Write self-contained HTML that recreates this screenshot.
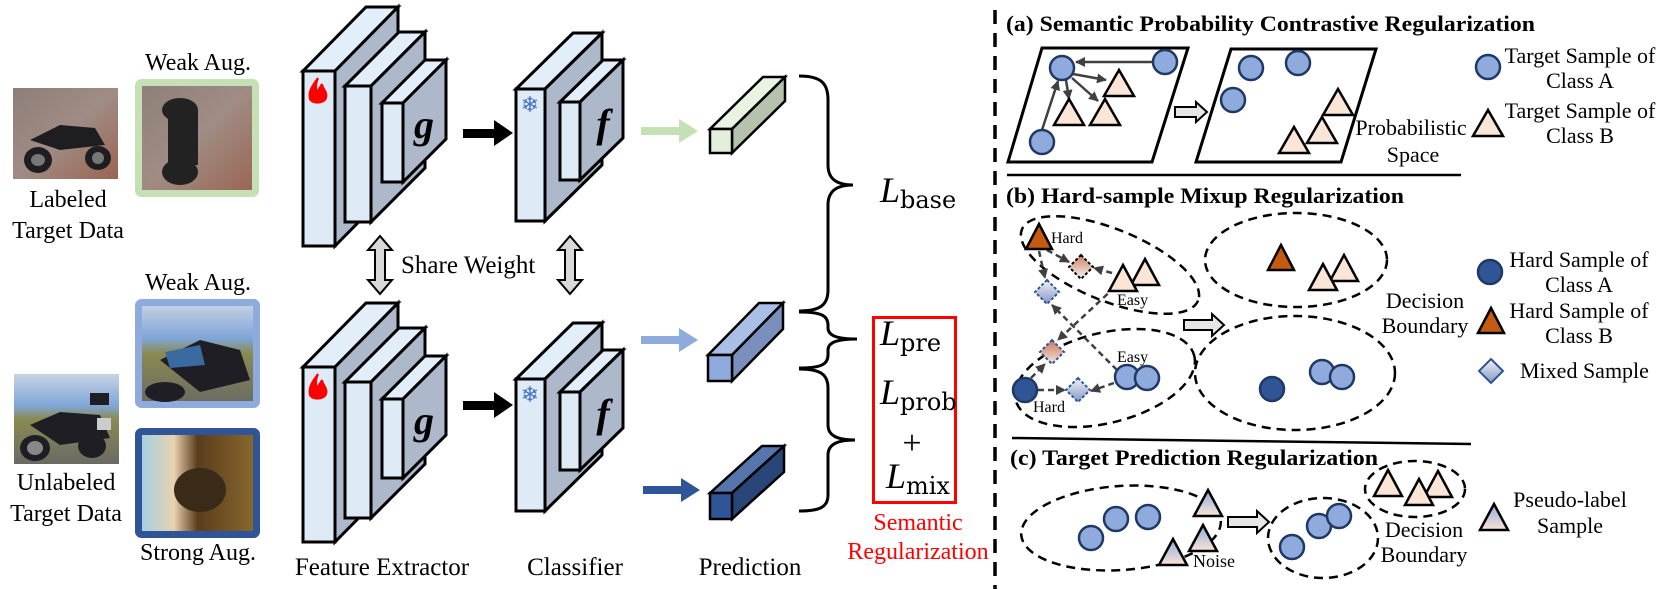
<!DOCTYPE html>
<html><head><meta charset="utf-8"><style>
html,body{margin:0;padding:0;background:#fff}
svg{display:block;font-family:"Liberation Serif","Times New Roman",serif}
svg text{font-family:"Liberation Serif","Times New Roman",serif}
svg text.dv{font-family:"DejaVu Serif",serif}
svg text.sf{font-family:"DejaVu Sans",sans-serif}
</style></head><body>
<svg width="1660" height="589" viewBox="0 0 1660 589" xmlns="http://www.w3.org/2000/svg" font-family="Liberation Serif, serif">
<defs>
<linearGradient id="pl" x1="0" y1="0" x2="0" y2="1"><stop offset="0" stop-color="#8faadc"/><stop offset="1" stop-color="#fbe5d6"/></linearGradient>
<linearGradient id="mxb" x1="0" y1="0" x2="0" y2="1"><stop offset="0" stop-color="#f2f2f2"/><stop offset="1" stop-color="#8497c8"/></linearGradient>
<linearGradient id="mxo" x1="0" y1="0" x2="0" y2="1"><stop offset="0" stop-color="#d08060"/><stop offset="1" stop-color="#f4f4f8"/></linearGradient>
<linearGradient id="mxr" x1="0" y1="0" x2="0" y2="1"><stop offset="0" stop-color="#c8785a"/><stop offset="1" stop-color="#f8e4dc"/></linearGradient>
<linearGradient id="sky" x1="0" y1="0" x2="0" y2="1"><stop offset="0" stop-color="#c8d4e4"/><stop offset="0.35" stop-color="#7fa6d8"/><stop offset="0.5" stop-color="#8a8a52"/><stop offset="1" stop-color="#6a6a64"/></linearGradient>
<linearGradient id="brick" x1="0" y1="0" x2="1" y2="1"><stop offset="0" stop-color="#8d7f78"/><stop offset="0.5" stop-color="#a08c84"/><stop offset="1" stop-color="#9a6452"/></linearGradient>
<linearGradient id="strong" x1="0" y1="0" x2="1" y2="0"><stop offset="0" stop-color="#9fd0e8"/><stop offset="0.3" stop-color="#e8d2b0"/><stop offset="0.5" stop-color="#5a3c1c"/><stop offset="1" stop-color="#8a6a30"/></linearGradient>
<marker id="ah" viewBox="0 0 10 10" refX="9" refY="5" markerWidth="4" markerHeight="4" orient="auto"><path d="M0,0L10,5L0,10z" fill="#404040"/></marker>
</defs>

<!-- LEFT IMAGES -->
<rect x="13" y="88" width="105" height="91" fill="url(#brick)"/>
<g fill="#1e1e22"><ellipse cx="38" cy="160" rx="14" ry="13"/><ellipse cx="98" cy="158" rx="13" ry="12"/><path d="M30,140 L60,125 L95,128 L105,145 L60,150 Z"/></g>
<ellipse cx="38" cy="160" rx="7" ry="6" fill="#777"/><ellipse cx="98" cy="158" rx="6" ry="6" fill="#777"/>
<text x="68" y="207" font-size="24" text-anchor="middle">Labeled</text>
<text x="68" y="238" font-size="24" text-anchor="middle">Target Data</text>

<text x="198" y="70" font-size="24" text-anchor="middle">Weak Aug.</text>
<rect x="138.5" y="82.5" width="117" height="111" rx="3" fill="url(#brick)" stroke="#c5e0b4" stroke-width="7"/>
<g fill="#222"><ellipse cx="180" cy="110" rx="18" ry="12"/><ellipse cx="180" cy="172" rx="18" ry="13"/><rect x="168" y="110" width="30" height="55"/></g>

<text x="198" y="290" font-size="24" text-anchor="middle">Weak Aug.</text>
<rect x="138.5" y="302.5" width="118" height="102" rx="3" fill="url(#sky)" stroke="#8faadc" stroke-width="7"/>
<g fill="#1e1e24"><ellipse cx="165" cy="392" rx="20" ry="10"/><path d="M160,360 L200,340 L240,350 L250,380 L200,392 Z"/></g><path d="M165,352 L200,345 L205,365 L170,368Z" fill="#3a6aa0"/>

<rect x="138.5" y="431.5" width="118" height="103" rx="3" fill="url(#strong)" stroke="#2f5597" stroke-width="7"/>
<g fill="#3a2a18"><ellipse cx="200" cy="490" rx="26" ry="22"/></g>
<text x="198" y="560" font-size="24" text-anchor="middle">Strong Aug.</text>

<rect x="14" y="374" width="105" height="90" fill="url(#sky)"/>
<g fill="#1e1e24"><ellipse cx="35" cy="448" rx="15" ry="13"/><ellipse cx="92" cy="446" rx="14" ry="12"/><path d="M30,425 L60,412 L100,415 L110,438 L60,445 Z"/><rect x="90" y="393" width="19" height="12"/></g>
<ellipse cx="35" cy="448" rx="8" ry="7" fill="#888"/><rect x="97" y="418" width="14" height="12" fill="#ccc"/>
<text x="66" y="490" font-size="24" text-anchor="middle">Unlabeled</text>
<text x="66" y="521" font-size="24" text-anchor="middle">Target Data</text>

<!-- FEATURE EXTRACTORS -->
<g stroke="#000" stroke-width="3">
<polygon points="303,71 335,71 398,7 366,7" fill="#e2eefa"/>
<polygon points="335,71 398,7 398,182 335,246" fill="#adb9ca"/>
<rect x="303" y="71" width="32" height="175" fill="#deebf7"/>
<polygon points="345,86 371,86 425,32 399,32" fill="#e2eefa"/>
<polygon points="371,86 425,32 425,168 371,222" fill="#adb9ca"/>
<rect x="345" y="86" width="26" height="136" fill="#deebf7"/>
<polygon points="382,103 403,103 446,60 425,60" fill="#e2eefa"/>
<polygon points="403,103 446,60 446,139 403,182" fill="#adb9ca"/>
<rect x="382" y="103" width="21" height="79" fill="#deebf7"/>
</g>
<text x="424" y="138" font-size="40" font-weight="bold" font-style="italic" text-anchor="middle">g</text>
<path d="M318,78 C312,86 308,92 310,99 C312,104 324,104 326,98 C328,92 322,88 322,84 C320,88 318,90 317,92 C315,88 316,83 318,78Z" fill="#ff0000" stroke="#ff0000" stroke-width="2"/>
<g transform="translate(0,296)">
<g stroke="#000" stroke-width="3">
<polygon points="303,71 335,71 398,7 366,7" fill="#e2eefa"/>
<polygon points="335,71 398,7 398,182 335,246" fill="#adb9ca"/>
<rect x="303" y="71" width="32" height="175" fill="#deebf7"/>
<polygon points="345,86 371,86 425,32 399,32" fill="#e2eefa"/>
<polygon points="371,86 425,32 425,168 371,222" fill="#adb9ca"/>
<rect x="345" y="86" width="26" height="136" fill="#deebf7"/>
<polygon points="382,103 403,103 446,60 425,60" fill="#e2eefa"/>
<polygon points="403,103 446,60 446,139 403,182" fill="#adb9ca"/>
<rect x="382" y="103" width="21" height="79" fill="#deebf7"/>
</g>
<text x="424" y="138" font-size="40" font-weight="bold" font-style="italic" text-anchor="middle">g</text>
<path d="M318,78 C312,86 308,92 310,99 C312,104 324,104 326,98 C328,92 322,88 322,84 C320,88 318,90 317,92 C315,88 316,83 318,78Z" fill="#ff0000" stroke="#ff0000" stroke-width="2"/>
</g>

<g fill="#000"><rect x="463" y="129" width="32" height="9"/><polygon points="494,120 513,133 494,146"/>
<rect x="463" y="401" width="32" height="9"/><polygon points="494,392 513,405 494,418"/></g>

<!-- CLASSIFIERS -->
<g stroke="#000" stroke-width="3">
<polygon points="516,89 545,89 602,33 573,33" fill="#e2eefa"/>
<polygon points="545,89 602,33 602,165 545,221" fill="#adb9ca"/>
<rect x="516" y="89" width="29" height="132" fill="#deebf7"/>
<polygon points="560,102 580,102 623,60 603,60" fill="#e2eefa"/>
<polygon points="580,102 623,60 623,138 580,180" fill="#adb9ca"/>
<rect x="560" y="102" width="20" height="78" fill="#deebf7"/>
</g>
<text x="603" y="137" font-size="40" font-weight="bold" font-style="italic" text-anchor="middle">f</text>
<text x="530" y="112" font-size="22" fill="#4472c4" text-anchor="middle" class="sf">❄</text>
<g transform="translate(0,290)">
<g stroke="#000" stroke-width="3">
<polygon points="516,89 545,89 602,33 573,33" fill="#e2eefa"/>
<polygon points="545,89 602,33 602,165 545,221" fill="#adb9ca"/>
<rect x="516" y="89" width="29" height="132" fill="#deebf7"/>
<polygon points="560,102 580,102 623,60 603,60" fill="#e2eefa"/>
<polygon points="580,102 623,60 623,138 580,180" fill="#adb9ca"/>
<rect x="560" y="102" width="20" height="78" fill="#deebf7"/>
</g>
<text x="603" y="137" font-size="40" font-weight="bold" font-style="italic" text-anchor="middle">f</text>
<text x="530" y="112" font-size="22" fill="#4472c4" text-anchor="middle" class="sf">❄</text>
</g>

<g fill="#d9d9d9" stroke="#000" stroke-width="2">
<polygon points="380,236 392,250 385,250 385,280 392,280 380,294 368,280 375,280 375,250 368,250"/>
<polygon points="570,236 582,250 575,250 575,280 582,280 570,294 558,280 565,280 565,250 558,250"/>
</g>
<text x="401" y="273" font-size="25">Share Weight</text>

<g><rect x="641" y="127" width="40" height="8" fill="#c5e0b4"/><polygon points="679,119 698,131 679,143" fill="#c5e0b4"/>
<rect x="641" y="336" width="40" height="8" fill="#8faadc"/><polygon points="679,328 698,340 679,352" fill="#8faadc"/>
<rect x="643" y="486" width="40" height="8" fill="#2f5597"/><polygon points="681,478 700,490 681,502" fill="#2f5597"/></g>

<g stroke="#000" stroke-width="2.5">
<polygon points="710,129 732,129 785,77 763,77" fill="#e9f3e1"/>
<polygon points="732,129 785,77 785,101 732,153" fill="#b6c2ae"/>
<rect x="710" y="129" width="22" height="24" fill="#e2efda"/>
<polygon points="708,355 732,355 783,303 759,303" fill="#a9bfe6"/>
<polygon points="732,355 783,303 783,329 732,381" fill="#7a8fbc"/>
<rect x="708" y="355" width="24" height="26" fill="#8faadc"/>
<polygon points="710,493 732,493 784,446 762,446" fill="#5675ad"/>
<polygon points="732,493 784,446 784,472 732,519" fill="#284677"/>
<rect x="710" y="493" width="22" height="26" fill="#2f5597"/>
</g>

<g fill="none" stroke="#000" stroke-width="3">
<path d="M799,76 C822,76 828,84 828,100 L828,165 C828,180 838,185 853,185 C838,185 828,190 828,205 L828,290 C828,305 820,311 799,311"/>
<path d="M799,312 C820,312 828,315 828,325 L828,328 C828,336 838,339 857,339 C838,339 828,342 828,350 L828,355 C828,365 820,368 799,368"/>
<path d="M799,369 C820,369 828,374 828,388 L828,425 C828,436 838,440 855,440 C838,440 828,444 828,455 L828,495 C828,507 820,511 799,511"/>
</g>

<text x="880" y="202" font-size="36" font-style="italic">L</text><text x="900" y="208" font-size="24" class="dv">base</text>
<rect x="873.5" y="317.5" width="82" height="185" fill="none" stroke="#ff0000" stroke-width="3"/>
<text x="880" y="345" font-size="36" font-style="italic">L</text><text x="900" y="351" font-size="24" class="dv">pre</text>
<text x="880" y="404" font-size="36" font-style="italic">L</text><text x="900" y="410" font-size="24" class="dv">prob</text>
<text x="912" y="454" font-size="34" text-anchor="middle">+</text>
<text x="886" y="488" font-size="36" font-style="italic">L</text><text x="906" y="494" font-size="24" class="dv">mix</text>
<text x="918" y="530" font-size="24" fill="#ff0000" text-anchor="middle">Semantic</text>
<text x="918" y="559" font-size="24" fill="#ff0000" text-anchor="middle">Regularization</text>

<text x="382" y="575" font-size="25" text-anchor="middle">Feature Extractor</text>
<text x="575" y="575" font-size="25" text-anchor="middle">Classifier</text>
<text x="750" y="575" font-size="25" text-anchor="middle">Prediction</text>

<line x1="995" y1="10" x2="995" y2="589" stroke="#000" stroke-width="3.5" stroke-dasharray="14,9"/>

<text x="1006" y="31" font-size="22" font-weight="bold" textLength="529" lengthAdjust="spacingAndGlyphs">(a) Semantic Probability Contrastive Regularization</text>
<g fill="none" stroke="#000" stroke-width="3">
<polygon points="1042,48 1188,48 1152,162 1008,162"/>
<polygon points="1231,49 1376,49 1341,162 1196,162"/>
</g>
<g stroke="#404040" stroke-width="2.5" marker-end="url(#ah)">
<line x1="1153" y1="62" x2="1076" y2="62"/>
<line x1="1042" y1="130" x2="1058" y2="81"/>
<line x1="1073" y1="74" x2="1106" y2="80"/>
<line x1="1066" y1="80" x2="1069" y2="99"/>
<line x1="1072" y1="78" x2="1098" y2="101"/>
</g>
<g fill="#8faadc" stroke="#203864" stroke-width="2.5">
<circle cx="1062" cy="68" r="12"/><circle cx="1165" cy="62" r="12"/><circle cx="1042" cy="142" r="12"/>
<circle cx="1251" cy="68" r="12"/><circle cx="1298" cy="63" r="12"/><circle cx="1233" cy="100" r="12"/>
<circle cx="1488" cy="67" r="12"/>
</g>
<g fill="#fbe5d6" stroke="#000" stroke-width="2.5">
<polygon points="1119,70 1134,96 1104,96"/><polygon points="1069,99 1084,125 1054,125"/><polygon points="1105,99 1120,125 1090,125"/>
<polygon points="1338,89 1353,115 1323,115"/><polygon points="1322,117 1337,143 1307,143"/><polygon points="1294,127 1309,153 1279,153"/>
<polygon points="1488,110 1503,136 1473,136"/>
</g>
<polygon points="1175,107 1196,107 1196,102 1207,112 1196,122 1196,117 1175,117" fill="#e7e6e6" stroke="#000" stroke-width="2"/>
<text x="1411" y="135" font-size="22" text-anchor="middle">Probabilistic</text>
<text x="1413" y="162" font-size="22" text-anchor="middle">Space</text>
<text x="1580" y="63" font-size="22" text-anchor="middle">Target Sample of</text>
<text x="1580" y="88" font-size="22" text-anchor="middle">Class A</text>
<text x="1580" y="118" font-size="22" text-anchor="middle">Target Sample of</text>
<text x="1580" y="143" font-size="22" text-anchor="middle">Class B</text>
<line x1="1007" y1="175" x2="1461" y2="175" stroke="#000" stroke-width="2.5"/>

<text x="1006" y="203" font-size="22" font-weight="bold" textLength="398" lengthAdjust="spacingAndGlyphs">(b) Hard-sample Mixup Regularization</text>
<g fill="none" stroke="#000" stroke-width="2.5" stroke-dasharray="9,6">
<ellipse cx="1110" cy="265" rx="95" ry="36" transform="rotate(22 1110 265)"/>
<ellipse cx="1296" cy="260" rx="91" ry="47"/>
<ellipse cx="1105" cy="378" rx="92" ry="45" transform="rotate(-14 1105 378)"/>
<ellipse cx="1295" cy="373" rx="100" ry="57"/>
<ellipse cx="1121" cy="528" rx="100" ry="42" transform="rotate(-4 1121 528)"/>
<ellipse cx="1323" cy="538" rx="55" ry="40"/>
<ellipse cx="1415" cy="489" rx="50" ry="28"/>
</g>
<g stroke="#404040" stroke-width="2.5" stroke-dasharray="6,4" marker-end="url(#ah)">
<line x1="1047" y1="250" x2="1069" y2="262"/>
<line x1="1112" y1="273" x2="1094" y2="268"/>
<line x1="1039" y1="251" x2="1045" y2="278"/>
<line x1="1115" y1="287" x2="1058" y2="340"/>
<line x1="1117" y1="370" x2="1052" y2="305"/>
<line x1="1031" y1="378" x2="1045" y2="364"/>
<line x1="1038" y1="390" x2="1065" y2="390"/>
<line x1="1114" y1="383" x2="1091" y2="391"/>
</g>
<g stroke="#2f5597" stroke-width="2" stroke-dasharray="3,2">
<polygon points="1047,280 1059,292 1047,304 1035,292" fill="url(#mxb)"/>
<polygon points="1052,340 1064,352 1052,364 1040,352" fill="url(#mxr)"/>
<polygon points="1078,378 1090,390 1078,402 1066,390" fill="url(#mxb)"/>
</g>
<polygon points="1081,255 1093,267 1081,279 1069,267" fill="url(#mxo)" stroke="#000" stroke-width="2" stroke-dasharray="3,2"/>
<polygon points="1491,359 1503,371 1491,383 1479,371" fill="url(#mxb)" stroke="#2f5597" stroke-width="2"/>
<g fill="#c55a11" stroke="#000" stroke-width="2.5">
<polygon points="1039,224 1052,249 1026,249"/><polygon points="1281,245 1294,270 1268,270"/><polygon points="1491,308 1504,333 1478,333"/>
</g>
<g fill="#fbe5d6" stroke="#000" stroke-width="2.5">
<polygon points="1145,259 1159,285 1131,285"/><polygon points="1123,265 1137,291 1109,291"/>
<polygon points="1344,255 1358,281 1330,281"/><polygon points="1323,264 1337,290 1309,290"/>
<polygon points="1388,470 1402,496 1374,496"/><polygon points="1438,471 1452,497 1424,497"/><polygon points="1419,479 1433,505 1405,505"/>
</g>
<g fill="#2f5597" stroke="#1f3864" stroke-width="2.5">
<circle cx="1025" cy="390" r="12"/><circle cx="1272" cy="389" r="12"/><circle cx="1490" cy="272" r="12"/>
</g>
<g fill="#8faadc" stroke="#203864" stroke-width="2.5">
<circle cx="1127" cy="377" r="12"/><circle cx="1147" cy="378" r="12"/>
<circle cx="1322" cy="372" r="12"/><circle cx="1342" cy="377" r="12"/>
<circle cx="1091" cy="538" r="12"/><circle cx="1116" cy="519" r="12"/><circle cx="1148" cy="517" r="12"/>
<circle cx="1292" cy="547" r="12"/><circle cx="1319" cy="526" r="12"/><circle cx="1339" cy="516" r="12"/>
</g>
<text x="1051" y="243" font-size="16">Hard</text>
<text x="1117" y="305" font-size="16">Easy</text>
<text x="1117" y="362" font-size="16">Easy</text>
<text x="1033" y="412" font-size="16">Hard</text>
<polygon points="1184,320 1212,320 1212,314 1224,325 1212,336 1212,330 1184,330" fill="#e7e6e6" stroke="#000" stroke-width="2"/>
<text x="1425" y="308" font-size="22" text-anchor="middle">Decision</text>
<text x="1425" y="333" font-size="22" text-anchor="middle">Boundary</text>
<text x="1579" y="267" font-size="22" text-anchor="middle">Hard Sample of</text>
<text x="1579" y="292" font-size="22" text-anchor="middle">Class A</text>
<text x="1579" y="318" font-size="22" text-anchor="middle">Hard Sample of</text>
<text x="1579" y="343" font-size="22" text-anchor="middle">Class B</text>
<text x="1520" y="378" font-size="22">Mixed Sample</text>
<line x1="1012" y1="438" x2="1471" y2="444" stroke="#000" stroke-width="2.5"/>

<text x="1010" y="465" font-size="22" font-weight="bold" textLength="368" lengthAdjust="spacingAndGlyphs">(c) Target Prediction Regularization</text>
<g fill="url(#pl)" stroke="#000" stroke-width="2.5">
<polygon points="1208,490 1222,516 1194,516"/><polygon points="1203,525 1217,551 1189,551"/><polygon points="1173,539 1187,565 1159,565"/>
<polygon points="1494,504 1508,530 1480,530"/>
</g>
<text x="1193" y="567" font-size="18">Noise</text>
<polygon points="1228,517 1257,517 1257,511 1269,522 1257,533 1257,527 1228,527" fill="#e7e6e6" stroke="#000" stroke-width="2"/>
<text x="1424" y="537" font-size="22" text-anchor="middle">Decision</text>
<text x="1424" y="562" font-size="22" text-anchor="middle">Boundary</text>
<text x="1570" y="507" font-size="22" text-anchor="middle">Pseudo-label</text>
<text x="1570" y="533" font-size="22" text-anchor="middle">Sample</text>
</svg>
</body></html>
